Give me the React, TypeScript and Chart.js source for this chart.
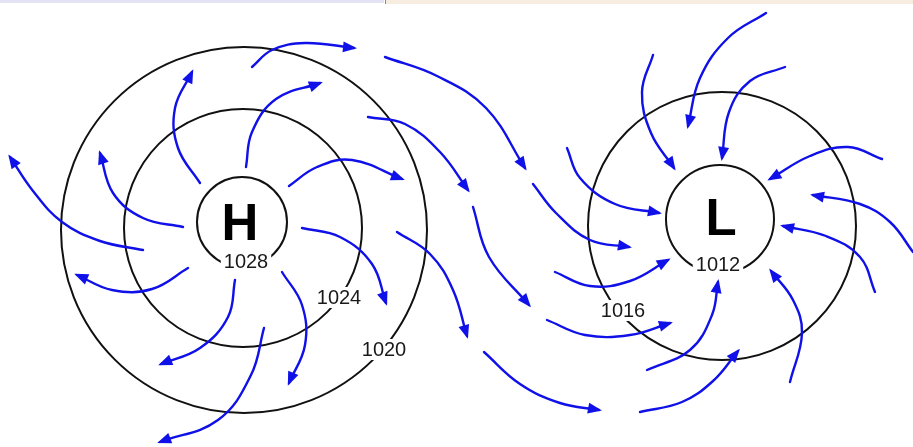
import React, { useEffect, useRef } from "react";
import { Chart, registerables } from "chart.js";

Chart.register(...registerables);

const CANVAS_W = 913;
const CANVAS_H = 447;

// Isobars (circles): centre x, centre y, radius (in data units = px)
const isobarCentersX = [242, 243, 244, 720, 722];
const isobarCentersY = [222, 228, 230, 219, 226];
const isobarRadii = [45, 119, 183, 54, 134];

// Pressure labels on isobars
const pressureLabels = ["1028", "1024", "1020", "1012", "1016"];
const pressureLabelX = [246, 339, 384, 718, 623];
const pressureLabelY = [268, 304, 356, 271, 317];

// Centre letters
const centerLetters = ["H", "L"];
const centerLetterX = [240, 721];
const centerLetterY = [240, 235];

type Pt = [number, number];

// Wind arrows leaving the high (last point = arrow tip)
const highOutflowArrows: Pt[][] = [
  [[252, 67], [272, 50], [305, 43], [354, 48]],
  [[200, 183], [178, 148], [175, 108], [192, 72]],
  [[246, 167], [252, 132], [276, 99], [320, 83]],
  [[289, 186], [317, 167], [352, 160], [402, 179]],
  [[183, 227], [143, 218], [113, 193], [100, 153]],
  [[143, 250], [100, 241], [62, 222], [33, 191], [10, 157]],
  [[188, 268], [152, 289], [112, 290], [77, 275]],
  [[235, 280], [228, 317], [200, 348], [161, 364]],
  [[264, 328], [251, 375], [218, 420], [160, 442]],
  [[282, 272], [302, 305], [305, 345], [289, 383]],
  [[302, 228], [340, 237], [372, 264], [386, 303]],
  [[397, 232], [430, 254], [453, 290], [467, 336]],
];

// Arrows in between the two systems
const connectingArrows: Pt[][] = [
  [[385, 57], [437, 76], [486, 108], [525, 168]],
  [[368, 117], [405, 124], [440, 152], [468, 190]],
  [[473, 207], [489, 257], [529, 305]],
  [[533, 184], [556, 213], [590, 240], [629, 247]],
  [[484, 352], [520, 384], [560, 403], [599, 410]],
];

// Wind arrows converging on the low
const lowInflowArrows: Pt[][] = [
  [[567, 148], [580, 178], [615, 204], [659, 213]],
  [[653, 55], [642, 92], [651, 133], [674, 168]],
  [[766, 13], [728, 38], [700, 78], [688, 126]],
  [[785, 67], [750, 81], [729, 112], [722, 158]],
  [[882, 159], [848, 147], [810, 156], [770, 179]],
  [[913, 252], [890, 222], [860, 204], [813, 195]],
  [[875, 292], [860, 257], [826, 236], [783, 226]],
  [[790, 382], [802, 333], [793, 300], [771, 271]],
  [[647, 370], [690, 350], [712, 315], [718, 282]],
  [[640, 412], [682, 402], [713, 381], [738, 351]],
  [[547, 320], [585, 335], [630, 335], [670, 323]],
  [[555, 272], [590, 286], [630, 281], [668, 260]],
];

const ARROW_COLOR = "#1010e8";
const ISOBAR_COLOR = "#111111";
const FONT_FAMILY = "'Liberation Sans', Arial, Helvetica, sans-serif";

const diagramPlugin = {
  id: "diagramDecor",
  beforeDraw(chart: any) {
    const { ctx } = chart;
    const xs = chart.scales.x;
    const ys = chart.scales.y;
    ctx.save();
    // thin strip left over from a neighbouring picture at the very top
    const y0 = ys.getPixelForValue(0);
    ctx.fillStyle = "#e3e3f6";
    ctx.fillRect(xs.getPixelForValue(0), y0, xs.getPixelForValue(384) - xs.getPixelForValue(0), 3);
    ctx.fillStyle = "#f6ecdf";
    ctx.fillRect(xs.getPixelForValue(386), y0, xs.getPixelForValue(913) - xs.getPixelForValue(386), 4);
    ctx.fillStyle = "#8a8a8a";
    ctx.fillRect(xs.getPixelForValue(385), y0, 1, 4);
    ctx.restore();
  },
  afterDatasetDraw(chart: any, args: any) {
    if (args.meta.type !== "bubble") return;
    const { ctx } = chart;
    const xs = chart.scales.x;
    const ys = chart.scales.y;
    ctx.save();
    ctx.textAlign = "center";
    ctx.textBaseline = "alphabetic";
    ctx.fillStyle = "#000";
    ctx.font = `bold 51px ${FONT_FAMILY}`;
    centerLetters.forEach((t, i) => {
      ctx.fillText(t, xs.getPixelForValue(centerLetterX[i]), ys.getPixelForValue(centerLetterY[i]));
    });
    ctx.font = `20px ${FONT_FAMILY}`;
    pressureLabels.forEach((t, i) => {
      const px = xs.getPixelForValue(pressureLabelX[i]);
      const py = ys.getPixelForValue(pressureLabelY[i]);
      const w = ctx.measureText(t).width;
      ctx.fillStyle = "#ffffff";
      ctx.fillRect(px - w / 2 - 3, py - 17, w + 6, 21);
      ctx.fillStyle = "#1a1a1a";
      ctx.fillText(t, px, py);
    });
    ctx.restore();
  },
  afterDatasetsDraw(chart: any) {
    const { ctx } = chart;
    ctx.save();
    chart.data.datasets.forEach((ds: any, i: number) => {
      const meta = chart.getDatasetMeta(i);
      if (meta.type !== "line") return;
      const pts = meta.data;
      const last = pts[pts.length - 1];
      const prev = pts[pts.length - 2];
      let bx = last.cp1x;
      let by = last.cp1y;
      if (bx === undefined || Math.hypot(last.x - bx, last.y - by) < 0.5) {
        bx = prev.x;
        by = prev.y;
      }
      let ux = last.x - bx;
      let uy = last.y - by;
      const len = Math.hypot(ux, uy) || 1;
      ux /= len;
      uy /= len;
      const tipX = last.x + ux * 3;
      const tipY = last.y + uy * 3;
      const baseX = tipX - ux * 14;
      const baseY = tipY - uy * 14;
      const hw = 5.5;
      ctx.fillStyle = ds.borderColor;
      ctx.beginPath();
      ctx.moveTo(tipX, tipY);
      ctx.lineTo(baseX - uy * hw, baseY + ux * hw);
      ctx.lineTo(baseX + uy * hw, baseY - ux * hw);
      ctx.closePath();
      ctx.fill();
    });
    ctx.restore();
  },
};

export default function App() {
  const canvasRef = useRef<HTMLCanvasElement | null>(null);

  useEffect(() => {
    document.body.style.margin = "0";
    const canvas = canvasRef.current;
    if (!canvas) return;

    const arrowDataset = (pts: Pt[]) => ({
      type: "line" as const,
      data: pts.map(([x, y]) => ({ x, y })),
      borderColor: ARROW_COLOR,
      borderWidth: 2.4,
      tension: 0.4,
      pointRadius: 0,
      pointHoverRadius: 0,
      fill: false,
      borderCapStyle: "round" as const,
      order: 0,
    });

    const allArrows = [...highOutflowArrows, ...connectingArrows, ...lowInflowArrows];

    const chart = new Chart(canvas, {
      type: "line",
      data: {
        datasets: [
          {
            type: "bubble" as const,
            data: isobarRadii.map((r, i) => ({ x: isobarCentersX[i], y: isobarCentersY[i], r })),
            borderColor: ISOBAR_COLOR,
            backgroundColor: "rgba(0,0,0,0)",
            borderWidth: 2,
            hoverRadius: 0,
            order: 1,
          } as any,
          ...allArrows.map(arrowDataset),
        ],
      },
      options: {
        animation: false,
        responsive: false,
        events: [],
        layout: { padding: 0, autoPadding: false },
        scales: {
          x: { type: "linear", min: 0, max: CANVAS_W, display: false },
          y: { type: "linear", min: 0, max: CANVAS_H, reverse: true, display: false },
        },
        plugins: {
          legend: { display: false },
          tooltip: { enabled: false },
        },
      },
      plugins: [diagramPlugin],
    });

    return () => chart.destroy();
  }, []);

  return (
    <div style={{ width: CANVAS_W, height: CANVAS_H, background: "#fff" }}>
      <canvas ref={canvasRef} width={CANVAS_W} height={CANVAS_H} />
    </div>
  );
}
